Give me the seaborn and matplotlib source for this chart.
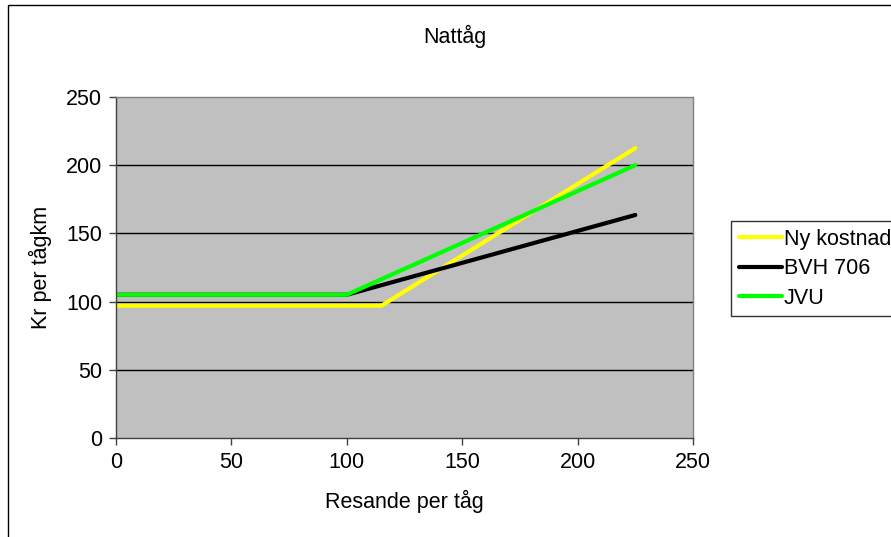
import pandas as pd
import seaborn as sns
import matplotlib.pyplot as plt
from matplotlib.patches import Rectangle

# Data
x_ny = [0, 115, 225]
y_ny = [97, 97, 212.5]
x_bvh = [0, 100, 225]
y_bvh = [105, 105, 163.5]
x_jvu = [0, 100, 225]
y_jvu = [105, 105, 200]
series_names = ["Ny kostnad", "BVH 706", "JVU"]
series_colors = ["#FFFF00", "#000000", "#00FF00"]

sns.set_style("white")
plt.rcParams['font.family'] = ['Liberation Sans', 'DejaVu Sans']
plt.rcParams['text.color'] = 'black'
plt.rcParams['axes.labelcolor'] = 'black'
plt.rcParams['xtick.color'] = 'black'
plt.rcParams['ytick.color'] = 'black'
fs = 15.5

fig = plt.figure(figsize=(8.91, 5.37), dpi=100)
ax = fig.add_axes([116/891, 99/537, 577/891, 341/537])
ax.set_facecolor("#C0C0C0")

# outer chart frame (cropped at right and bottom)
fig.patches.append(Rectangle((8/891, -0.1), 1.0, (537-5)/537 + 0.1,
                             transform=fig.transFigure, fill=False,
                             edgecolor="black", linewidth=1))

for xs, ys, name, col in zip([x_ny, x_bvh, x_jvu], [y_ny, y_bvh, y_jvu],
                             series_names, series_colors):
    df = pd.DataFrame({"x": xs, "y": ys})
    sns.lineplot(data=df, x="x", y="y", ax=ax, color=col, linewidth=3,
                 label=name, solid_capstyle="round")

ax.set_xlim(0, 250)
ax.set_ylim(0, 250)
ax.set_xticks(range(0, 251, 50))
ax.set_yticks(range(0, 251, 50))
for yv in range(50, 250, 50):
    ax.axhline(yv, color="black", linewidth=1, zorder=0.5)

for s in ["top", "right"]:
    ax.spines[s].set_color("#808080")
for s in ["left", "bottom"]:
    ax.spines[s].set_color("#404040")
for s in ax.spines.values():
    s.set_linewidth(1)

ax.tick_params(axis="both", direction="out", length=5, width=1,
               color="#404040", labelcolor="black", labelsize=fs, pad=5,
               bottom=True, left=True)
ax.set_xlabel("Resande per tåg", fontsize=fs, labelpad=12, color="black")
ax.set_ylabel("Kr per tågkm", fontsize=fs, labelpad=10, color="black")
fig.text(455/891, 1 - 36/537, "Nattåg", ha="center", va="center",
         fontsize=fs, color="black")

leg = ax.legend(loc="upper left", bbox_to_anchor=(731/891, 1 - 221/537),
                bbox_transform=fig.transFigure, frameon=True, fancybox=False,
                fontsize=fs, handlelength=2.0, handletextpad=0.1,
                borderpad=0.35, labelspacing=0.4, borderaxespad=0)
leg.get_frame().set_edgecolor("black")
leg.get_frame().set_linewidth(1)
for t in leg.get_texts():
    t.set_color("black")

fig.savefig("out.png", dpi=100)
